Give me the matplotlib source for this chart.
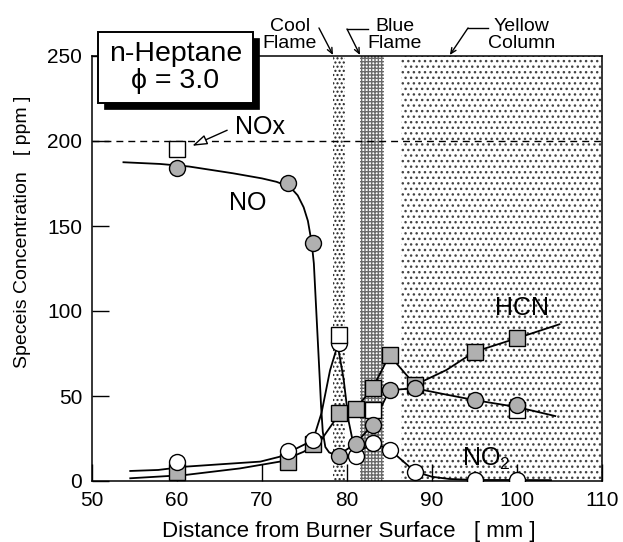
import numpy as np
import matplotlib
matplotlib.use("Agg")
import matplotlib.pyplot as plt
from matplotlib.patches import Rectangle

plt.rcParams["font.family"] = ["Liberation Sans", "DejaVu Sans"]
plt.rcParams["mathtext.fontset"] = "custom"
plt.rcParams["mathtext.rm"] = "Liberation Sans"
plt.rcParams["hatch.linewidth"] = 1.0

# --- measured points (distance in mm, concentration in ppm) ---
no_x = [60, 73, 76, 79, 81, 83, 85, 88, 95, 100]
no_y = [184, 175, 140, 15, 22, 33, 53.5, 54.5, 47.5, 45]

no2_x = [60, 73, 76, 79, 81, 83, 85, 88, 95, 100]
no2_y = [11, 17.5, 24, 81, 15, 22.5, 18.5, 5.5, 0.6, 0.6]

hcn_x = [60, 73, 76, 79, 81, 83, 85, 88, 95, 100]
hcn_y = [5.5, 11.4, 21.5, 40, 42.4, 54.5, 74, 56.5, 76, 84]

nox_x = [60, 79, 83, 100]
nox_y = [195, 86, 42, 42]

# --- fitted curves drawn through the data ---
no_fit_x = [53.7, 58, 61.4, 66.6, 70, 71.7, 73.3, 74.2, 74.9, 75.4, 75.85,
            76.1, 76.4, 76.8, 76.95, 77.15, 77.45, 77.9, 78.5, 79, 81, 83,
            85, 88, 91.5, 95, 100, 104.5]
no_fit_y = [187.5, 186.5, 185, 181, 178, 176, 173, 168, 161, 153, 140,
            128, 98.6, 59.4, 44, 29, 20, 16.8, 15.6, 15.3, 22, 33,
            53.5, 54.5, 51, 47.6, 43.5, 38.2]

no2_fit_x = [54.5, 57.8, 60.9, 65, 69.8, 72.1, 74, 76, 77, 78, 78.9, 79.6,
             80.2, 81, 83, 85, 88, 90, 92, 95, 100, 104]
no2_fit_y = [5.9, 6.5, 8.4, 9.8, 11.4, 14.3, 19, 24, 40, 65, 80, 60,
             35, 15.7, 22.5, 18.6, 5.5, 2.5, 1.2, 0.6, 0.6, 0.5]

hcn_fit_x = [54.5, 60.9, 67.4, 72.1, 74.9, 76.8, 78.6, 79, 81, 83, 85, 88,
             91.7, 95, 100, 105]
hcn_fit_y = [1.6, 3.5, 7.4, 11.4, 17.2, 23, 35.9, 40, 42.4, 54.5, 74, 56.5,
             65.3, 76, 84, 92.2]

nox_level = 200

zone_names = ["Cool\nFlame", "Blue\nFlame", "Yellow\nColumn"]
zone_start = [78.4, 81.5, 86.4]
zone_end = [79.8, 84.3, 110]
zone_hatch = ["....", "+++++", "..."]
zone_ink = ["#222222", "#6a6a6a", "#444444"]

xticks = [50, 60, 70, 80, 90, 100, 110]
yticks = [0, 50, 100, 150, 200, 250]

# --- figure ---
fig = plt.figure(figsize=(6.23, 5.42), dpi=100)
ax = fig.add_axes([92 / 623, 61 / 542, 510 / 623, 425 / 542])
ax.set_xlim(50, 110)
ax.set_ylim(0, 250)

for x0, x1, h, c in zip(zone_start, zone_end, zone_hatch, zone_ink):
    ax.axvspan(x0, x1, facecolor="white", edgecolor=c, hatch=h,
               linewidth=0, zorder=0)

ax.axhline(nox_level, color="black", lw=1.0, dashes=(5, 3.6), zorder=1)

line_kw = dict(color="black", lw=1.3, zorder=2)
ax.plot(no_fit_x, no_fit_y, **line_kw)
ax.plot(no2_fit_x, no2_fit_y, **line_kw)
ax.plot(hcn_fit_x, hcn_fit_y, **line_kw)

# marker stacking follows the original: HCN bottom, then NO2, NOx, NO
mk = dict(linestyle="none", markersize=11.5, markeredgecolor="black",
          markeredgewidth=1.0, zorder=3)
ax.plot(hcn_x, hcn_y, marker="s", markerfacecolor="#b0b0b0", **mk)
ax.plot(no2_x, no2_y, marker="o", markerfacecolor="white", **mk)
ax.plot(nox_x, nox_y, marker="s", markerfacecolor="white", **mk)
ax.plot(no_x, no_y, marker="o", markerfacecolor="#b0b0b0", **mk)

# species labels
lab_kw = dict(fontsize=18, ha="center", va="center", zorder=5)
ax.text(69.8, 208, "NOx", **lab_kw)
ax.text(68.35, 163.5, "NO", **lab_kw)
ax.text(100.6, 102, "HCN", **lab_kw)
ax.text(93.5, 8.8, "NO$_2$", fontsize=18, ha="left", va="baseline", zorder=5)
ax.annotate("", xy=(61.5, 196.5), xytext=(66.2, 207),
            arrowprops=dict(arrowstyle="-|>,head_length=0.9,head_width=0.3",
                            fc="white", ec="black", lw=1.0))

# zone labels above the frame
zone_cx = [73.3, 85.65, 100.5]
for name, cx in zip(zone_names, zone_cx):
    ax.text(cx, 262.4, name, fontsize=14, ha="center", va="center",
            linespacing=1.05, clip_on=False)
arrow = dict(arrowstyle="->,head_length=0.4,head_width=0.18", lw=1.0,
             color="black", shrinkA=0, shrinkB=0)
ax.annotate("", xy=(78.35, 250.6), xytext=(76.7, 266.5), arrowprops=arrow,
            annotation_clip=False)
ax.plot([82.47, 80.0], [265.9, 265.9], color="black", lw=1.0, clip_on=False)
ax.annotate("", xy=(81.53, 250.6), xytext=(80.0, 265.9), arrowprops=arrow,
            annotation_clip=False)
ax.plot([96.6, 94.24], [266.5, 266.5], color="black", lw=1.0, clip_on=False)
ax.annotate("", xy=(92.1, 250.6), xytext=(94.24, 266.5), arrowprops=arrow,
            annotation_clip=False)

# axes styling
ax.set_xticks(xticks)
ax.set_yticks(yticks)
ax.tick_params(direction="in", length=12, width=1.0, labelsize=15, pad=7,
               top=False, right=False)
for s in ax.spines.values():
    s.set_linewidth(1.1)

fig.text(349 / 623, 1 - 531 / 542, "Distance from Burner Surface   [ mm ]",
         fontsize=16, ha="center", va="center")
fig.text(23 / 623, 1 - 232 / 542, "Speceis Concentration   [ ppm ]",
         fontsize=14, rotation=90, ha="center", va="center")

# title box with drop shadow (axes fraction, drawn over the top spine)
bx, by, bw, bh = 6 / 510, 378 / 425, 155 / 510, 71 / 425
ax.add_patch(Rectangle((bx + 6 / 510, by - 6 / 425), bw, bh,
                       transform=ax.transAxes, facecolor="black",
                       edgecolor="black", lw=0.5, zorder=10, clip_on=False))
ax.add_patch(Rectangle((bx, by), bw, bh, transform=ax.transAxes,
                       facecolor="white", edgecolor="black", lw=1.4,
                       zorder=11, clip_on=False))
ax.text(bx + bw / 2, by + bh / 2, "n-Heptane\n\u03d5 = 3.0", fontsize=20.5,
        transform=ax.transAxes, ha="center", va="center", linespacing=1.05,
        zorder=12, clip_on=False)

fig.savefig("out.png", dpi=100)
